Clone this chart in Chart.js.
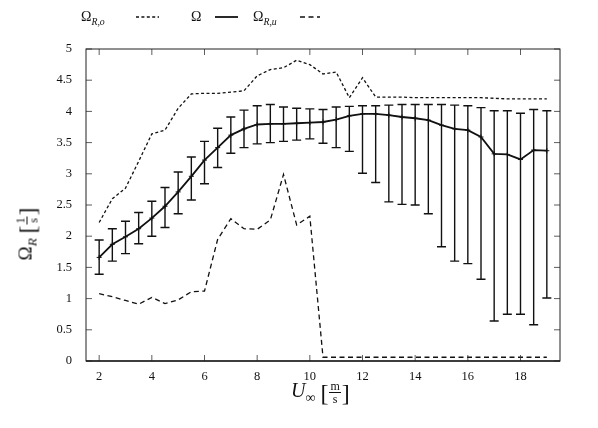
<!DOCTYPE html>
<html>
<head>
<meta charset="utf-8">
<script src="https://cdn.jsdelivr.net/npm/chart.js@4.4.1/dist/chart.umd.min.js"></script>
<style>
  body { margin: 0; background: #fff; }
  #wrap { position: relative; width: 598px; height: 428px; font-family: "Liberation Serif", serif; color: #111; }
  #wrap canvas { position: absolute; left: 0; top: 0; }
  .txt { position: absolute; white-space: nowrap; line-height: 1; }
  .frac { display: inline-flex; flex-direction: column; vertical-align: middle; font-size: 12px; text-align: center; margin: 0 1px; }
  .frac span:first-child { border-bottom: 0.8px solid #111; padding: 0 1px; }
  .br { font-size: 24px; vertical-align: middle; font-weight: 300; }
  sub { font-size: 0.7em; font-style: italic; }
</style>
</head>
<body>
<div id="wrap">
  <canvas id="mychart" width="598" height="428"></canvas>

  <!-- legende -->
  <div class="txt" style="left:81px; top:10px; font-size:14px;">Ω<sub>R,o</sub></div>
  <svg class="txt" style="left:136px; top:12px;" width="24" height="10"><line x1="0" y1="5" x2="23" y2="5" stroke="#111" stroke-width="1.3" stroke-dasharray="3,2.4"/></svg>
  <div class="txt" style="left:191px; top:10px; font-size:14px;">Ω</div>
  <svg class="txt" style="left:215px; top:12px;" width="24" height="10"><line x1="0" y1="5" x2="23" y2="5" stroke="#111" stroke-width="1.8"/></svg>
  <div class="txt" style="left:253px; top:10px; font-size:14px;">Ω<sub>R,u</sub></div>
  <svg class="txt" style="left:300px; top:12px;" width="22" height="10"><line x1="0" y1="5" x2="20" y2="5" stroke="#111" stroke-width="1.3" stroke-dasharray="5,3.5"/></svg>

  <!-- aksetitler -->
  <div class="txt" style="left:291px; top:380px; font-size:20px;"><i>U</i><sub style="font-style:normal">∞</sub>&nbsp;<span class="br">[</span><span class="frac"><span>m</span><span>s</span></span><span class="br">]</span></div>
  <div class="txt" style="left:27px; top:234px; font-size:19px; transform: translate(-50%,-50%) rotate(-90deg);">Ω<sub>R</sub>&nbsp;<span class="br">[</span><span class="frac"><span>1</span><span>s</span></span><span class="br">]</span></div>
</div>

<script>
// vindhastighet
const xs = [2, 2.5, 3, 3.5, 4, 4.5, 5, 5.5, 6, 6.5, 7, 7.5, 8, 8.5, 9, 9.5, 10, 10.5,
            11, 11.5, 12, 12.5, 13, 13.5, 14, 14.5, 15, 15.5, 16, 16.5, 17, 17.5, 18, 18.5, 19];

// middelverdi Omega
const omega = [1.66, 1.87, 1.99, 2.12, 2.29, 2.48, 2.71, 2.96, 3.22, 3.42, 3.62, 3.72, 3.79, 3.80, 3.80, 3.81, 3.82, 3.83,
               3.87, 3.93, 3.96, 3.96, 3.94, 3.91, 3.89, 3.86, 3.78, 3.72, 3.70, 3.59, 3.32, 3.31, 3.23, 3.38, 3.37];

// feilstolper
const errUpper = [1.94, 2.12, 2.24, 2.38, 2.56, 2.78, 3.03, 3.27, 3.52, 3.73, 3.91, 4.02, 4.09, 4.11, 4.07, 4.05, 4.04, 4.03,
                  4.07, 4.08, 4.09, 4.09, 4.10, 4.11, 4.11, 4.11, 4.11, 4.10, 4.09, 4.06, 4.01, 4.01, 3.97, 4.03, 4.01];
const errLower = [1.39, 1.60, 1.72, 1.88, 2.00, 2.14, 2.36, 2.58, 2.84, 3.10, 3.33, 3.42, 3.48, 3.50, 3.52, 3.54, 3.56, 3.49,
                  3.42, 3.36, 3.01, 2.86, 2.55, 2.51, 2.50, 2.36, 1.83, 1.60, 1.56, 1.31, 0.64, 0.75, 0.75, 0.58, 1.01];

// Omega_R,o (prikket) og Omega_R,u (stiplet)
const omegaRo = [2.22, 2.60, 2.77, 3.20, 3.64, 3.70, 4.05, 4.28, 4.29, 4.29, 4.31, 4.33, 4.57, 4.67, 4.70, 4.82, 4.75, 4.60,
                 4.63, 4.22, 4.54, 4.23, 4.23, 4.23, 4.22, 4.22, 4.22, 4.22, 4.22, 4.22, 4.21, 4.20, 4.20, 4.20, 4.20];
const omegaRu = [1.08, 1.03, 0.97, 0.91, 1.02, 0.92, 0.98, 1.11, 1.12, 1.95, 2.28, 2.12, 2.11, 2.26, 2.99, 2.18, 2.32, 0.06,
                 0.06, 0.06, 0.06, 0.06, 0.06, 0.06, 0.06, 0.06, 0.06, 0.06, 0.06, 0.06, 0.06, 0.06, 0.06, 0.06, 0.06];

// aksemerker
const xTicks = [2, 4, 6, 8, 10, 12, 14, 16, 18];
const yTicks = [0, 0.5, 1, 1.5, 2, 2.5, 3, 3.5, 4, 4.5, 5];

const pts = arr => xs.map((x, i) => ({x: x, y: arr[i]}));

//tegner feilstolper og innoverpekende merker + ramme
const errorBars = {
    id: 'errorBars',
    afterDatasetsDraw(chart) {
        const ctx = chart.ctx;
        const x = chart.scales.x, y = chart.scales.y;
        ctx.save();
        ctx.strokeStyle = '#111';
        ctx.lineWidth = 1.4;
        xs.forEach((v, i) => {
            const px = x.getPixelForValue(v);
            const top = y.getPixelForValue(errUpper[i]);
            const bot = y.getPixelForValue(errLower[i]);
            ctx.beginPath();
            ctx.moveTo(px, top); ctx.lineTo(px, bot);
            ctx.moveTo(px - 4.5, top); ctx.lineTo(px + 4.5, top);
            ctx.moveTo(px - 4.5, bot); ctx.lineTo(px + 4.5, bot);
            ctx.stroke();
        });
        ctx.restore();
    },
    afterDraw(chart) {
        const ctx = chart.ctx;
        const a = chart.chartArea;
        const x = chart.scales.x, y = chart.scales.y;
        ctx.save();
        ctx.strokeStyle = '#333';
        ctx.lineWidth = 0.8;
        ctx.beginPath();
        xTicks.forEach(v => {
            const px = x.getPixelForValue(v);
            ctx.moveTo(px, a.bottom); ctx.lineTo(px, a.bottom - 6);
            ctx.moveTo(px, a.top); ctx.lineTo(px, a.top + 6);
        });
        yTicks.forEach(v => {
            const py = y.getPixelForValue(v);
            ctx.moveTo(a.left, py); ctx.lineTo(a.left + 6, py);
            ctx.moveTo(a.right, py); ctx.lineTo(a.right - 6, py);
        });
        ctx.stroke();
        ctx.lineWidth = 1;
        ctx.strokeStyle = '#222';
        ctx.strokeRect(a.left, a.top, a.right - a.left, a.bottom - a.top);
        ctx.lineWidth = 1.6;
        ctx.beginPath();
        ctx.moveTo(a.left, a.bottom); ctx.lineTo(a.right, a.bottom);
        ctx.stroke();
        ctx.restore();
    }
};

new Chart(document.getElementById('mychart'), {
    type: 'line',
    data: {
        datasets: [
            {
                label: 'Ω_R,o',
                data: pts(omegaRo),
                borderColor: '#111',
                borderWidth: 1.3,
                borderDash: [3, 2.4],
                pointRadius: 0,
                tension: 0
            },
            {
                label: 'Ω',
                data: pts(omega),
                borderColor: '#111',
                borderWidth: 1.8,
                pointStyle: 'cross',
                pointRadius: 2.5,
                pointBorderWidth: 1,
                tension: 0
            },
            {
                label: 'Ω_R,u',
                data: pts(omegaRu),
                borderColor: '#111',
                borderWidth: 1.3,
                borderDash: [5, 3.5],
                pointRadius: 0,
                tension: 0
            }
        ]
    },
    options: {
        responsive: false,
        animation: false,
        layout: { padding: { top: 49, right: 38, left: 0, bottom: 0 } },
        plugins: {
            legend: { display: false },
            tooltip: { enabled: false }
        },
        scales: {
            x: {
                type: 'linear',
                min: 1.5,
                max: 19.5,
                afterBuildTicks: s => { s.ticks = xTicks.map(v => ({value: v})); },
                afterFit: s => { s.height = 67; },
                grid: { display: false, drawTicks: false },
                border: { display: false },
                ticks: {
                    padding: 8,
                    color: '#111',
                    font: { family: 'Liberation Serif', size: 12.5 },
                    maxRotation: 0,
                    callback: v => String(v)
                }
            },
            y: {
                min: 0,
                max: 5,
                afterBuildTicks: s => { s.ticks = yTicks.map(v => ({value: v})); },
                afterFit: s => { s.width = 86; },
                grid: { display: false, drawTicks: false },
                border: { display: false },
                ticks: {
                    padding: 14,
                    color: '#111',
                    font: { family: 'Liberation Serif', size: 12.5 },
                    callback: v => String(v)
                }
            }
        }
    },
    plugins: [errorBars]
});
</script>
</body>
</html>
